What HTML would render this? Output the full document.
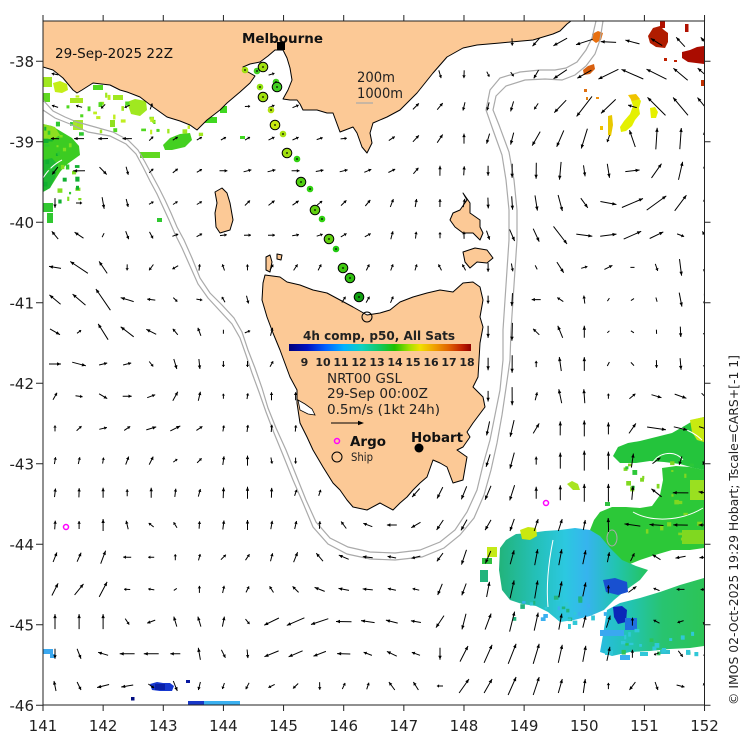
<!DOCTYPE html>
<html><head><meta charset="utf-8">
<style>
html,body{margin:0;padding:0;background:#fff;}
svg{display:block;font-family:"DejaVu Sans","Liberation Sans",sans-serif;}
</style></head><body>
<svg id="s" width="750" height="740" viewBox="0 0 750 740" xmlns="http://www.w3.org/2000/svg">
<defs>
<clipPath id="pc"><rect x="43" y="21" width="661.5" height="684"/></clipPath>
<linearGradient id="cb" x1="0" x2="1" y1="0" y2="0">
<stop offset="0" stop-color="#00007a"/><stop offset="0.1" stop-color="#0010c0"/><stop offset="0.2" stop-color="#0060ff"/><stop offset="0.3" stop-color="#00b0ff"/><stop offset="0.4" stop-color="#10d0c0"/><stop offset="0.5" stop-color="#10c860"/><stop offset="0.58" stop-color="#20c000"/><stop offset="0.66" stop-color="#a0e000"/><stop offset="0.72" stop-color="#f0e000"/><stop offset="0.8" stop-color="#f0a000"/><stop offset="0.88" stop-color="#e06000"/><stop offset="0.95" stop-color="#c02000"/><stop offset="1" stop-color="#900000"/>
</linearGradient>
<linearGradient id="cg" gradientUnits="userSpaceOnUse" x1="500" x2="645" y1="0" y2="0">
<stop offset="0" stop-color="#22b47c"/><stop offset="0.25" stop-color="#24c0b8"/><stop offset="0.45" stop-color="#2cc8e0"/><stop offset="0.6" stop-color="#36b4ee"/><stop offset="0.8" stop-color="#22c4b0"/><stop offset="1" stop-color="#24c464"/>
</linearGradient>
<linearGradient id="lg" gradientUnits="userSpaceOnUse" x1="600" x2="704" y1="0" y2="0">
<stop offset="0" stop-color="#28bce0"/><stop offset="0.3" stop-color="#22c4b0"/><stop offset="0.6" stop-color="#28c470"/><stop offset="1" stop-color="#2cc456"/>
</linearGradient>
</defs>
<rect width="750" height="740" fill="#fff"/>
<g clip-path="url(#pc)">
<g id="sst" stroke="none">
<!-- top-left -->
<polygon fill="#3ccc22" points="43,124 52,126 62,132 72,138 79,146 80,155 73,160 66,165 60,172 55,180 50,188 43,192"/>
<polygon fill="#1fb832" points="43,160 52,158 58,165 55,178 50,188 43,192"/>
<polygon fill="#8de020" points="43,124 55,127 60,135 52,140 43,142"/>
<polygon fill="#c4ee18" points="53,83 60,81 67,84 68,90 62,93 55,92"/>
<rect x="43" y="93" width="7" height="9" fill="#5fd820"/>
<rect x="70" y="98" width="13" height="5" fill="#a8e820"/>
<rect x="93" y="85" width="10" height="5" fill="#50d820"/>
<rect x="113" y="95" width="10" height="5" fill="#a0e820"/>
<polygon fill="#a0e820" points="127,102 135,99 146,101 147,110 140,116 131,114"/>
<rect x="110" y="120" width="5" height="7" fill="#90e020"/>
<polygon fill="#44d020" points="163,145 170,138 180,134 190,133 192,140 185,147 172,150 165,150"/>
<rect x="140" y="152" width="20" height="6" fill="#60d820"/>
<rect x="43" y="77" width="9" height="10" fill="#a0e820"/>
<rect x="73" y="120" width="10" height="10" fill="#a8e828"/>
<rect x="47" y="213" width="6" height="10" fill="#30c830"/>
<rect x="157" y="218" width="5" height="4" fill="#30c830"/>
<rect x="43" y="203" width="10" height="9" fill="#30c830"/>
<rect x="220" y="106" width="7" height="7" fill="#40d820"/>
<rect x="200" y="117" width="17" height="6" fill="#40d820"/>
<rect x="240" y="136" width="5" height="3" fill="#40d820"/>
<path d="M43,178 C48,170 54,164 62,160" stroke="#fff" stroke-width="1" fill="none"/>
<!-- top-right -->
<polygon fill="#b01c00" points="653,28 660,26 664,30 668,33 668,42 665,48 656,47 650,43 648,36"/>
<rect x="660" y="21" width="5" height="7" fill="#b01000"/>
<polygon fill="#aa0c00" points="682,52 690,50 697,47 704,46 704,64 696,63 688,62 682,58"/>
<rect x="685" y="24" width="3.5" height="8" fill="#b01000"/>
<rect x="701" y="80" width="3" height="6" fill="#c03000"/>
<rect x="664" y="58" width="3" height="3" fill="#c02000"/><rect x="674" y="60" width="3" height="2" fill="#c02000"/>
<polygon fill="#e87010" points="592,34 598,31 603,33 601,40 596,43 592,40"/>
<polygon fill="#d86010" points="583,70 588,66 594,64 595,69 590,74 584,75"/>
<rect x="584" y="89" width="3" height="3" fill="#e07010"/><rect x="596" y="97" width="3" height="2" fill="#f09010"/><rect x="586" y="97" width="2" height="3" fill="#e08010"/>
<polygon fill="#e4f000" points="630,95 637,96 641,101 639,108 640,114 635,120 632,126 626,131 621,132 620,127 624,121 630,114 633,106 631,100"/>
<polygon fill="#f0c400" points="628,95 636,94 640,99 632,101"/>
<polygon fill="#e6f000" points="650,108 655,107 658,112 656,118 651,118"/>
<polygon fill="#e8c800" points="608,116 612,115 613,125 611,136 608,135"/>
<rect x="600" y="126" width="3" height="4" fill="#f0c000"/>
<!-- south-east -->
<polygon fill="#24c43c" points="613,456 618,447 628,443 640,441 656,437 672,433 686,425 696,419 704,417 704,470 694,468 680,464 664,462 650,461 636,463 620,463"/>
<polygon fill="#c8ea10" points="690,420 704,417 704,442 697,440 692,432"/>
<polygon fill="#2cc838" points="590,530 594,520 600,512 612,507 626,507 640,508 652,506 660,495 663,480 662,468 676,466 690,467 704,470 704,548 690,550 672,550 655,555 640,560 625,566 612,570 600,568 592,560"/>
<rect x="690" y="480" width="14" height="20" fill="#9ae020"/>
<rect x="682" y="530" width="22" height="14" fill="#80d820"/>
<polygon fill="url(#cg)" points="500,548 506,540 516,534 530,533 545,531 560,530 575,528 590,530 600,536 610,548 622,560 636,566 648,570 640,580 626,590 614,600 604,610 590,616 574,620 560,622 548,612 536,606 522,604 510,600 502,590 499,570"/>
<polygon fill="url(#lg)" points="607,610 620,603 640,598 660,592 680,585 704,578 704,646 690,648 670,649 650,651 630,652 612,656 600,652 603,635"/>
<polygon fill="#1850d0" points="603,580 615,578 627,582 628,592 618,595 606,592"/>
<polygon fill="#0a28b8" points="613,607 622,606 627,610 626,622 618,624 614,617"/>
<rect x="625" y="618" width="12" height="12" fill="#2070e0"/>
<rect x="600" y="630" width="24" height="6" fill="#3aa8f0"/>
<rect x="605" y="650" width="8" height="5" fill="#30c8d8"/><rect x="620" y="655" width="10" height="5" fill="#3ab0f0"/><rect x="640" y="652" width="8" height="4" fill="#30c8d8"/><rect x="660" y="650" width="10" height="4" fill="#30c0d0"/>
<polygon fill="#c8e810" points="520,530 528,527 536,528 537,536 530,540 522,539"/>
<rect x="487" y="547" width="10" height="10" fill="#c4ea18"/>
<polygon fill="#a8e420" points="567,484 572,481 578,484 580,490 573,490"/>
<rect x="482" y="558" width="10" height="6" fill="#30c040"/>
<rect x="480" y="570" width="8" height="12" fill="#22b47c"/>
<rect x="605" y="502" width="5" height="4" fill="#30c040"/>
<path d="M553,540 C549,560 546,585 548,607" stroke="#fff" stroke-width="1" fill="none"/>
<path d="M655,424 C670,424 690,428 702,440" stroke="#fff" stroke-width="1" fill="none"/>
<path d="M653,462 C660,452 675,450 683,460" stroke="#fff" stroke-width="1" fill="none"/>
<path d="M633,512 C650,522 680,522 703,508" stroke="#fff" stroke-width="1" fill="none"/>
<ellipse cx="612" cy="538" rx="5" ry="8" fill="none" stroke="#aaa" stroke-width="1"/>
<!-- south-west -->
<polygon fill="#1638d0" points="150,684 157,682 163,683 170,683 174,686 172,691 160,691 152,690"/>
<rect x="155" y="684" width="10" height="6" fill="#0a20a8"/>
<rect x="131" y="697" width="3.5" height="3.5" fill="#000c80"/>
<rect x="186" y="680" width="4" height="3" fill="#0818a0"/>
<rect x="188" y="701" width="52" height="5" fill="#3ab0f0"/>
<rect x="188" y="701" width="16" height="5" fill="#1838c8"/>
<rect x="43" y="649" width="10" height="5" fill="#3aa8f0"/>
<rect x="50" y="654" width="5" height="4" fill="#3aa8f0"/>
</g>
<g id="contours" fill="none" stroke="#aaa" stroke-width="1.2">
<polyline points="43,100 53,111 65,117 77,122 95,127 113,132 128,140 138,150 145,162 152,175 159,188 165,200 171,213 177,227 184,240 192,258 200,278 210,293 222,305 234,318 242,332 248,350 255,368 262,388 268,408 276,428 286,450 296,475 306,500 316,522 330,538 348,547 370,552 395,553 420,550 440,542 455,530 467,512 477,490 483,465 490,440 495,415 500,390 503,360 503,330 505,300 507,270 509,240 509,210 506,180 502,155 493,130 486,110 490,90 500,78 520,72 540,70 555,70 566,68 577,62 586,50 592,38 596,21"/>
<polyline points="43,110 55,118 70,124 88,132 110,136 126,144 136,154 143,167 150,181 157,194 163,207 169,220 175,234 182,248 190,266 198,284 208,298 220,311 232,324 240,338 246,355 252,373 259,392 266,412 274,433 283,455 293,480 303,503 313,527 328,544 347,554 370,559 395,560 422,557 444,548 460,535 474,518 484,495 491,470 497,443 502,415 506,388 510,360 511,330 513,300 515,270 517,240 517,210 514,180 509,152 499,125 493,110 496,96 506,86 525,80 545,79 562,80 575,75 586,66 595,54 600,40 603,21"/>
</g>
<g id="land" fill="#fcc996" stroke="#000" stroke-width="1" stroke-linejoin="round">
<polygon points="43,21 571,21 567,24 560,31 553,34 533,40 500,43 477,45 463,48 447,57 433,73 417,93 400,110 387,117 373,123 370,133 372,143 367,153 362,147 357,133 353,127 340,132 333,113 327,113 317,110 303,110 300,104 297,100 290,100 283,99 288,90 292,80 290,68 287,58 283,50 275,50 268,56 260,62 250,64 243,67 248,72 255,76 250,83 240,92 227,103 220,110 207,120 197,130 190,125 180,121 167,117 153,107 140,97 127,92 120,90 110,85 93,83 82,90 77,93 73,90 63,78 53,70 43,67"/>
<polygon points="265,275 280,277 287,282 300,285 313,290 327,293 340,300 353,307 367,315 380,313 390,310 400,302 413,297 427,293 440,290 453,292 463,283 473,282 480,287 483,300 480,317 483,327 480,343 478,377 473,387 483,397 485,407 473,423 467,432 470,437 463,447 457,450 467,457 463,480 453,483 447,467 440,463 433,460 427,477 420,483 413,490 407,497 400,503 393,510 380,503 367,510 353,507 347,500 340,490 333,483 323,467 313,450 307,437 300,423 297,403 297,390 290,377 280,350 273,333 267,317 262,300 263,283"/>
<polygon points="215,192 222,188 227,193 230,203 233,220 230,230 220,233 216,227 215,213 217,203"/>
<polygon points="463,193 467,200 460,210 453,213 450,220 455,227 463,233 473,233 480,240 483,233 480,227 480,220 470,213 470,203"/>
<polygon points="463,252 475,248 487,250 493,258 487,263 477,262 470,268 465,262"/>
<polygon points="266,257 270,255 272,262 270,272 266,270"/>
<polygon points="277,254 282,255 281,260 277,259"/>
</g>
<polygon points="298,400 305,404 312,409 315,415 308,414 300,410" fill="#fff" stroke="#000" stroke-width="0.8"/>
<g id="arrows"></g>
<g id="dots" stroke="#000" stroke-width="1"></g>
</g>
<rect x="43" y="21" width="661.5" height="684" fill="none" stroke="#222" stroke-width="1"/>
<g id="ticks" stroke="#222" stroke-width="1"></g>
<g id="tl" font-size="15" fill="#222"></g>
<!-- labels -->
<text x="55" y="58" font-size="13.5" fill="#111" textLength="118" lengthAdjust="spacingAndGlyphs">29-Sep-2025 22Z</text>
<text x="242" y="43" font-size="13.5" font-weight="bold" fill="#111" textLength="81" lengthAdjust="spacingAndGlyphs">Melbourne</text>
<rect x="277" y="42" width="8" height="8" fill="#000"/>
<text x="357" y="82" font-size="14" fill="#222" textLength="38" lengthAdjust="spacingAndGlyphs">200m</text>
<text x="357" y="98" font-size="14" fill="#222" textLength="46" lengthAdjust="spacingAndGlyphs">1000m</text>
<line x1="356" y1="103" x2="373" y2="103" stroke="#aaa" stroke-width="1.2"/>
<text x="303" y="340" font-size="12" font-weight="bold" fill="#222" textLength="152" lengthAdjust="spacingAndGlyphs">4h comp, p50, All Sats</text>
<rect x="289" y="344" width="182" height="7" fill="url(#cb)"/>
<g font-size="11" font-weight="bold" fill="#222" text-anchor="middle">
<text x="304.5" y="366">9</text><text x="323" y="366">10</text><text x="341" y="366">11</text><text x="359" y="366">12</text><text x="377" y="366">13</text><text x="395" y="366">14</text><text x="413" y="366">15</text><text x="431" y="366">16</text><text x="449" y="366">17</text><text x="467" y="366">18</text>
</g>
<text x="327" y="383" font-size="13.5" fill="#222" textLength="75" lengthAdjust="spacingAndGlyphs">NRT00 GSL</text>
<text x="327" y="398" font-size="13.5" fill="#222" textLength="101" lengthAdjust="spacingAndGlyphs">29-Sep 00:00Z</text>
<text x="327" y="414" font-size="13.5" fill="#222" textLength="113" lengthAdjust="spacingAndGlyphs">0.5m/s (1kt 24h)</text>
<line x1="331" y1="423" x2="360" y2="423" stroke="#000" stroke-width="1"/>
<polygon points="364,423 358,420.8 358,425.2" fill="#000"/>
<circle cx="337" cy="441" r="2.5" fill="none" stroke="#f0f" stroke-width="1.5"/>
<text x="350" y="446" font-size="13.5" font-weight="bold" fill="#111" textLength="36" lengthAdjust="spacingAndGlyphs">Argo</text>
<circle cx="337" cy="457" r="5" fill="none" stroke="#000" stroke-width="1"/>
<text x="351" y="461" font-size="11.5" fill="#222" textLength="22" lengthAdjust="spacingAndGlyphs">Ship</text>
<text x="411" y="442" font-size="13.5" font-weight="bold" fill="#111" textLength="52" lengthAdjust="spacingAndGlyphs">Hobart</text>
<circle cx="419" cy="448" r="4.5" fill="#000"/>
<circle cx="66" cy="527" r="2.5" fill="none" stroke="#f0f" stroke-width="1.5"/>
<circle cx="546" cy="503" r="2.5" fill="none" stroke="#f0f" stroke-width="1.5"/>
<circle cx="367" cy="317" r="5" fill="none" stroke="#000" stroke-width="1"/>
<text transform="translate(738,530) rotate(-90)" text-anchor="middle" font-size="12" fill="#222" textLength="350" lengthAdjust="spacingAndGlyphs">© IMOS 02-Oct-2025 19:29 Hobart; Tscale=CARS+[-1 1]</text>
</svg>
<script>
(function(){
var NS="http://www.w3.org/2000/svg";
function el(t,a,p){var e=document.createElementNS(NS,t);for(var k in a)e.setAttribute(k,a[k]);(p||document.getElementById('s')).appendChild(e);return e;}
// ticks and labels
var tk=document.getElementById('ticks'),tl=document.getElementById('tl');
for(var i=0;i<12;i++){var x=43+i*60.14;
 el('line',{x1:x,y1:705,x2:x,y2:711},tk);el('line',{x1:x,y1:15,x2:x,y2:21},tk);
 var t=el('text',{x:x,y:731,'text-anchor':'middle'},tl);t.textContent=String(141+i);}
for(var k=0;k<9;k++){var y=61.25+k*80.5;
 el('line',{x1:36,y1:y,x2:43,y2:y},tk);el('line',{x1:704.5,y1:y,x2:710.5,y2:y},tk);
 var t2=el('text',{x:34,y:y+5.5,'text-anchor':'end'},tl);t2.textContent=String(-38-k);}
// control vectors
var C=[
[70,110,-6,-2],[110,108,-4,4],[150,110,2,-6],[90,140,-10,0],[115,140,-10,0],[155,138,4,-4],[185,137,5,-3],[210,138,5,-3],
[85,172,-12,0],[108,177,8,7],[132,176,2,8],[155,172,4,-4],[180,170,5,-4],[205,171,5,-3],
[58,197,0,10],[80,203,6,0],[105,210,2,12],[130,208,2,8],[160,205,4,-3],[190,205,5,-3],
[50,228,-6,-8],[75,232,-9,-6],[105,236,2,-4],[128,240,3,8],
[55,267,-12,-2],[80,262,-18,-12],[103,265,-8,-12],[128,270,0,6],
[78,297,-13,-11],[103,290,-15,-23],[128,302,-13,-4],[152,303,-8,-1],[175,302,4,4],
[60,337,10,6],[78,333,4,-3],[103,328,-10,-16],[128,330,-13,-10],[152,333,-10,-5],[175,333,-5,-6],[199,333,-3,-8],[223,335,0,4],
[60,367,12,0],[83,370,14,4],[105,367,8,-2],[152,365,4,5],[175,365,3,10],[199,365,1,10],[223,365,0,6],[247,367,0,6],
[55,397,4,-7],[80,400,7,1],[105,402,8,5],[130,400,9,0],[155,397,8,-3],[177,395,5,-9],[200,395,2,-9],[223,397,0,-5],
[55,430,0,-6],[130,428,6,-4],[155,428,10,-3],[178,428,10,-5],[200,428,6,-4],[223,430,1,-6],[247,430,1,-7],
[103,462,1,-6],[130,460,3,-8],[155,460,4,-8],[178,462,4,-3],[247,460,0,-10],
[103,490,0,-10],[128,493,0,-7],[152,490,0,-10],[247,490,0,-12],
[78,525,0,-8],[103,522,0,-12],[152,525,-5,-4],[247,523,0,-10],
[78,555,4,-9],[103,553,5,-13],[130,560,-8,0],[152,558,-6,0],[175,555,0,-6],[223,557,5,-5],[247,557,4,-6],
[78,590,9,-11],[103,588,8,-15],[128,592,-6,0],[175,592,-3,2],[199,588,0,-7],[247,588,3,-6],
[55,622,0,-15],[78,622,0,-15],[103,622,0,-15],[128,625,4,6],[152,625,-8,3],[175,622,-3,-10],[200,622,-3,-10],[223,622,2,-10],[250,625,4,5],
[55,652,0,10],[78,652,4,10],[103,654,-10,-3],[128,655,-15,0],[152,655,-15,0],[175,655,-10,0],[200,652,-2,-12],[225,652,4,8],
[55,686,-2,-10],[78,686,4,8],[103,688,-12,3],[128,688,-12,2],[152,686,6,4],[175,686,4,10],[200,686,-2,8],[225,688,-2,6],
[285,625,-18,8],[310,625,-18,8],[335,624,-16,0],[360,624,-14,-2],[385,624,-12,-3],[410,624,-10,-2],[440,624,-8,12],[462,630,-4,16],
[285,655,-15,6],[310,655,-12,6],[335,654,-14,0],[360,654,-8,-3],[385,654,-10,-5],[410,654,-8,-3],[440,660,0,12],[462,660,8,-16],
[285,686,-6,3],[310,686,0,8],[335,686,3,-6],[360,686,3,-6],[385,686,-6,-8],[410,686,-5,-8],[440,686,-6,0],[462,686,10,-14],
[280,540,2,-8],[300,560,4,-10],[330,570,-10,-5],[360,580,-10,0],[400,575,-8,-2],[440,570,-6,8],[470,560,-5,15],
[280,590,-4,-6],[320,595,-10,-4],[360,600,-10,-2],[410,598,-6,-2],[450,595,-4,12],
[235,280,-3,-6],[255,300,2,8],[270,340,2,-8],[280,400,0,-8],[290,460,0,6],[310,500,2,-6],
[220,105,4,2],[240,140,5,-3],[280,138,6,-3],[320,138,6,-2],[360,140,6,0],[400,140,6,-4],[430,140,6,-8],[460,145,0,-10],
[220,173,8,0],[260,173,8,-2],[300,173,8,0],[340,173,8,-2],[380,173,7,-3],[420,173,5,-6],[440,175,0,-10],
[240,203,5,-5],[280,203,6,-5],[320,203,5,-4],[360,203,5,-6],[400,203,3,-8],[430,205,0,-8],
[240,235,7,0],[280,235,7,0],[320,235,6,-2],[360,235,6,-3],[400,235,2,-8],[430,235,0,-6],
[250,262,0,-6],[290,265,4,-6],[330,265,3,-6],[370,262,3,-6],[410,262,2,-6],[440,265,-3,-6],
[488,300,0,8],[511,310,0,14],[488,340,0,12],[511,343,0,20],[488,375,0,12],[511,377,0,20],[486,405,0,10],[511,408,0,20],[485,437,-3,14],[507,442,-6,18],[486,470,-4,12],[510,475,-4,18],[490,500,-6,14],[508,505,-5,16],[483,530,-6,10],[505,535,-4,12],
[505,75,3,4],[535,105,-4,6],[560,110,-12,12],[485,110,-2,8],[510,110,-3,10],[490,140,-3,10],[512,140,-3,12],[535,140,-8,14],[490,175,0,10],[512,175,0,14],[537,180,0,16],[562,182,1,18],[585,185,2,8],
[620,42,-15,-1],[645,42,-12,-6],[668,42,-10,-8],[690,42,-8,-10],[700,25,-6,-8],
[580,75,-14,8],[605,70,-20,10],[635,68,-22,-10],[660,72,-20,-10],[690,75,-14,-12],
[570,115,-12,18],[595,110,-17,22],[625,105,-8,-2],[655,105,-18,-18],[690,100,-15,-18],
[590,140,-6,20],[615,140,-2,6],[640,140,-6,-18],[660,145,2,-22],[685,150,2,-22],[703,150,0,-15],
[560,160,-4,18],[610,170,2,14],[625,176,14,0],[650,170,10,-14],[680,175,4,-18],[703,180,0,-12],
[610,200,16,3],[640,197,22,-10],[660,195,20,-15],[680,195,12,-16],[703,200,0,-10],
[540,230,6,13],[565,230,14,18],[595,235,16,0],[625,233,18,-8],[650,233,14,-7],[675,238,7,0],[690,240,-2,10],[703,242,-4,-8],
[540,268,2,4],[565,262,7,11],[588,268,6,-2],[612,267,8,-4],[636,269,4,0],[660,275,2,7],[683,280,2,20],[703,285,0,12],
[533,305,-9,0],[560,302,-6,-4],[585,300,-1,-8],[610,302,2,-3],[635,304,3,-2],[658,305,1,4],[683,315,4,16],[703,318,0,10],
[535,338,-6,-6],[560,333,-5,-12],[585,333,0,-12],[610,335,-2,2],[632,336,3,2],[658,338,0,4],[683,340,0,10],[703,340,0,8],
[537,367,0,-6],[562,365,-2,-14],[587,367,0,-14],[610,367,-2,4],[635,370,3,3],[660,370,0,8],[683,370,1,12],[703,370,0,8],
[537,398,2,-8],[562,397,-3,-14],[587,397,-1,-14],[610,400,0,-5],[635,395,6,-5],[660,400,10,3],[685,400,12,4],[703,400,6,6],
[537,432,6,-10],[560,430,0,-14],[585,430,0,-16],[608,432,0,-12],[635,428,7,-10],[665,432,20,4],[690,435,12,3],
[537,462,0,-8],[560,462,0,-16],[585,462,0,-20],[608,462,0,-18],[635,455,2,-14],[665,455,8,-5],[690,460,-4,8],
[537,495,0,-12],[562,490,0,-15],[585,488,0,-18],[608,488,0,-18],[630,486,2,-14],[652,490,-10,-8],[675,498,-16,0],[698,500,-12,-2],
[537,525,4,-12],[562,525,4,-12],[585,525,2,-10],[608,520,0,-14],[628,525,-16,-2],[650,527,-14,-1],[672,528,-15,0],[698,530,-12,0],
[512,560,4,-14],[537,560,3,-16],[562,560,3,-16],[587,560,3,-14],[610,560,2,-10],[635,557,4,-8],[660,560,-8,-5],[685,560,-10,2],
[512,593,4,-18],[537,590,3,-18],[562,590,3,-16],[587,590,3,-14],[610,593,0,-8],[635,590,8,-6],[660,595,-6,-2],[685,595,-8,0],
[490,625,6,-16],[512,622,5,-20],[537,622,4,-18],[562,622,3,-16],[587,622,3,-12],[610,625,4,-12],[635,625,0,-8],[660,625,-6,-3],[685,628,-6,2],[703,625,-2,6],
[490,655,8,-18],[512,655,8,-20],[537,655,6,-20],[562,655,4,-18],[587,655,3,-16],[610,655,3,-14],[635,655,0,-8],[660,655,-5,2],[685,660,5,6],[703,655,0,6],
[490,686,8,-14],[512,686,8,-18],[537,686,6,-18],[562,686,4,-14],[587,686,2,-14],[612,686,0,-6],[638,686,-6,8],[660,686,3,8],[685,686,8,2],[703,686,-2,-6]
];
var land=[].slice.call(document.querySelectorAll('#land polygon')).map(function(p){return p.getAttribute('points').trim().split(/\s+/).map(function(s){return s.split(',').map(Number);});});
function inPoly(x,y,P){var c=false;for(var i=0,j=P.length-1;i<P.length;j=i++){var xi=P[i][0],yi=P[i][1],xj=P[j][0],yj=P[j][1];if(((yi>y)!=(yj>y))&&(x<(xj-xi)*(y-yi)/(yj-yi)+xi))c=!c;}return c;}
var dl='',dh='';
for(var i=0;i<28;i++)for(var j=0;j<21;j++){
 var x=55+i*24.06,y=42+j*32.2;
 if(land.some(function(P){return inPoly(x,y,P);}))continue;
 var su=0,sv=0,sw=0,sm=0;
 for(var c=0;c<C.length;c++){var q=C[c];var d2=(x-q[0])*(x-q[0])+(y-q[1])*(y-q[1]);var w=1/Math.pow(d2+40,2);su+=w*q[2];sv+=w*q[3];sw+=w;sm+=w*Math.sqrt(q[2]*q[2]+q[3]*q[3]);}
 var u=su/sw,v=sv/sw,m=sm/sw,n=Math.sqrt(u*u+v*v);
 if(n<0.01)continue;
 var ux=u/n,uy=v/n,L=m*0.85+n*0.15;
 if(L<2)L=2;
 var tx=x+ux*L/2,ty=y+uy*L/2,bx=x-ux*L/2,by=y-uy*L/2;
 dl+='M'+bx.toFixed(1)+','+by.toFixed(1)+'L'+tx.toFixed(1)+','+ty.toFixed(1);
 if(L>5){var hl=Math.min(4,L*0.35),hw=1.7;
  var px=-uy,py=ux,hx=tx-ux*hl,hy=ty-uy*hl;
  dh+='M'+tx.toFixed(1)+','+ty.toFixed(1)+'L'+(hx+px*hw).toFixed(1)+','+(hy+py*hw).toFixed(1)+'L'+(hx-px*hw).toFixed(1)+','+(hy-py*hw).toFixed(1)+'Z';}
}
var ag=document.getElementById('arrows');
el('path',{d:dl,stroke:'#000','stroke-width':'1',fill:'none'},ag);
el('path',{d:dh,fill:'#000',stroke:'none'},ag);
// ship track dots
var D=[[245,70,0,'#a0e010'],[257,71,0,'#40d020'],[276,82,0,'#40d020'],[260,87,0,'#90e010'],[271,110,0,'#b0e010'],[283,134,0,'#a8e010'],[297,159,0,'#30d010'],[310,189,0,'#30d010'],[322,219,0,'#30d010'],[336,249,0,'#20c810'],
[263,67,1,'#a0e010'],[277,87,1,'#40d020'],[263,97,1,'#a0e010'],[275,125,1,'#c8e810'],[287,153,1,'#a0e010'],[301,182,1,'#50d010'],[315,210,1,'#60d010'],[329,239,1,'#60d010'],[343,268,1,'#40c810'],[350,278,1,'#30c010'],[359,297,1,'#10a010']];
var dg=document.getElementById('dots');
D.forEach(function(d){
 if(d[2])el('circle',{cx:d[0],cy:d[1],r:4.8,fill:d[3],stroke:'#000','stroke-width':'1'},dg);
 else el('circle',{cx:d[0],cy:d[1],r:3.3,fill:d[3],stroke:'none'},dg);
 el('circle',{cx:d[0],cy:d[1],r:0.9,fill:'#000',stroke:'none'},dg);
});
// speckles
var seed=7;function rnd(){seed=(seed*16807)%2147483647;return seed/2147483647;}
var S=[[120,110,80,25,40,['#a0e820','#50d820','#c0ee20']],[60,160,20,40,30,['#30c830','#80e020','#10b030']],[660,500,40,40,30,['#2cc838','#80d820']],[560,610,50,15,25,['#30c8d8','#3ab0f0','#22b47c']],[660,640,40,12,20,['#30c8d8','#2cc456']]];
var sg=document.getElementById('sst');
S.forEach(function(c){for(var k=0;k<c[4];k++){var x=c[0]+(rnd()*2-1)*c[2],y=c[1]+(rnd()*2-1)*c[3];if(land.some(function(P){return inPoly(x,y,P);}))continue;
 el('rect',{x:x.toFixed(1),y:y.toFixed(1),width:(2+rnd()*3).toFixed(1),height:(2+rnd()*3).toFixed(1),fill:c[5][Math.floor(rnd()*c[5].length)]},sg);}});
})();
</script>
</body></html>
